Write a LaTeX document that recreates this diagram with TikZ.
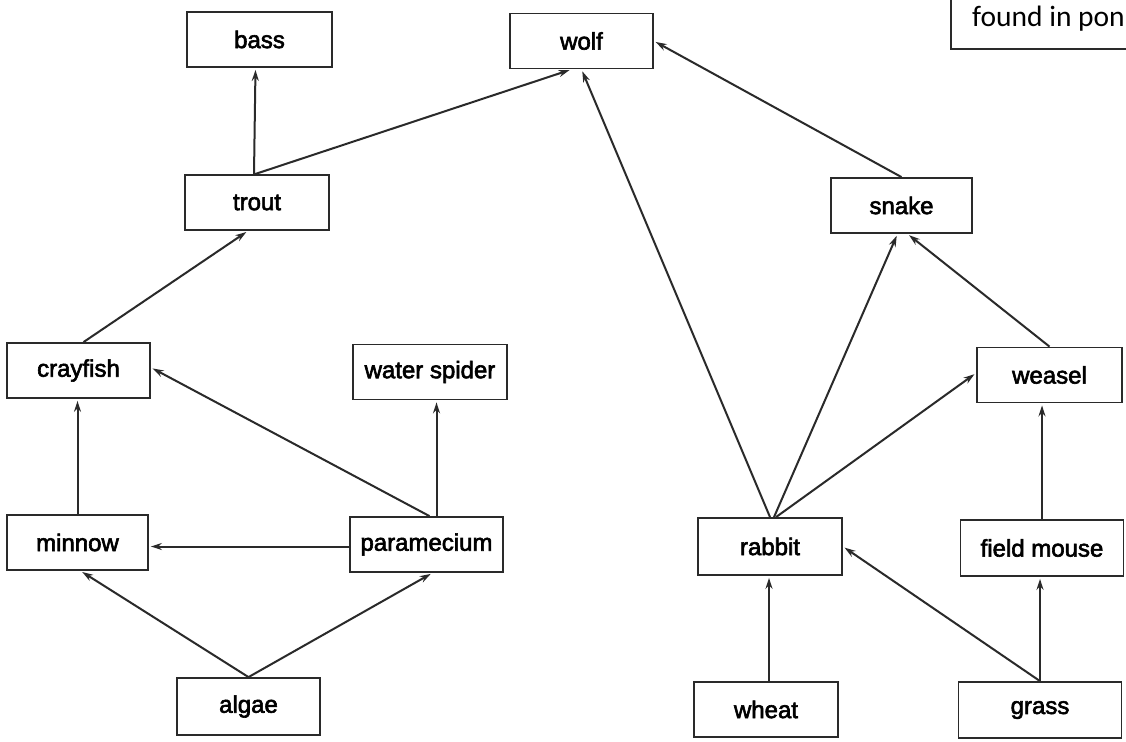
\documentclass[tikz,border=0pt]{standalone}
\usepackage{fontspec}
\setmainfont{Liberation Sans}[FakeBold=2.5]
\newfontfamily\calfont{Carlito}
\usetikzlibrary{arrows.meta,calc}
\definecolor{ink}{HTML}{2A2A2A}
\begin{document}
\begin{tikzpicture}[x=1pt,y=-1pt,
  sp/.style={draw=ink,line width=1.8pt,inner sep=0pt,minimum height=55pt,
    font=\fontsize{24}{27}\selectfont,text=black},
  eat/.style={draw=ink,line width=2pt,-{Stealth[length=11pt,width=7pt]},shorten >=2pt}]
\useasboundingbox (0,0) rectangle (1126,741);
\fill[white] (0,0) rectangle (1126,741);
% nodes
\node[sp,minimum width=145pt] (bass) at (259.5,39.5) {bass};
\node[sp,minimum width=143pt] (wolf) at (581.5,41) {wolf};
\node[sp,minimum width=144pt] (trout) at (257,202.5) {trout};
\node[sp,minimum width=141pt] (snake) at (901.5,205.5) {snake};
\node[sp,minimum width=143pt] (crayfish) at (78.5,370.5) {crayfish};
\node[sp,minimum width=154pt] (waterspider) at (430,372) {water spider};
\node[sp,minimum width=145pt] (weasel) at (1049.5,375) {weasel};
\node[sp,minimum width=141pt] (minnow) at (77.5,542.5) {minnow};
\node[sp,minimum width=153pt] (paramecium) at (426.5,544.5) {paramecium};
\node[sp,minimum width=144pt,minimum height=57pt] (rabbit) at (770,546.5) {rabbit};
\node[sp,minimum width=163pt,minimum height=56pt] (fieldmouse) at (1042,548) {field mouse};
\node[sp,minimum width=143pt,minimum height=57pt] (algae) at (248.5,706.5) {algae};
\node[sp,minimum width=144pt] (wheat) at (766,709.5) {wheat};
\node[sp,minimum width=163pt,minimum height=56pt] (grass) at (1040,710) {grass};
% partial note box at top right
\draw[ink,line width=1.8pt] (1140,-10) -- (951,-10) -- (951,49) -- (1140,49);
\node[anchor=base west,inner sep=0pt,font=\calfont\fontsize{29.5}{31}\selectfont,text=black] (note) at (972,27) {found in pon};
% helper coordinates
\coordinate (pw) at ($(paramecium.north)+(10,0)$);
\coordinate (wr) at ($(wheat.north)+(3,0)$);
% connectors
\draw[eat] ($(trout.north)+(-3,0)$) -- ($(bass.south)+(-4,0)$);
\draw[eat] ($(trout.north)+(-2,0)$) -- ($(wolf.south)+(-10,0)$);
\draw[eat] (rabbit.north) -- (wolf.south);
\draw[eat] (snake.north) -- (wolf.east);
\draw[eat] ($(crayfish.north)+(5,0)$) -- ($(trout.south)+(-9,0)$);
\draw[eat] (minnow.north) -- (minnow.north |- crayfish.south);
\draw[eat] ($(paramecium.north)+(3,0)$) -- ($(crayfish.east)+(0,-3)$);
\draw[eat] (pw) -- (pw |- waterspider.south);
\draw[eat] ($(paramecium.west)+(0,2)$) -- ($(minnow.east)+(0,4)$);
\draw[eat] (algae.north) -- ($(minnow.south)+(3,0)$);
\draw[eat] (algae.north) -- ($(paramecium.south)+(6,0)$);
\draw[eat] ($(rabbit.north)+(4,0)$) -- ($(snake.south)+(-4,0)$);
\draw[eat] (weasel.north) -- ($(snake.south)+(6,0)$);
\draw[eat] ($(rabbit.north)+(6,0)$) -- ($(weasel.west)+(0,-2)$);
\draw[eat] (fieldmouse.north) -- (fieldmouse.north |- weasel.south);
\draw[eat] (grass.north) -- (grass.north |- fieldmouse.south);
\draw[eat] (wr) -- (wr |- rabbit.south);
\draw[eat] (grass.north) -- (rabbit.east);
\end{tikzpicture}
\end{document}
